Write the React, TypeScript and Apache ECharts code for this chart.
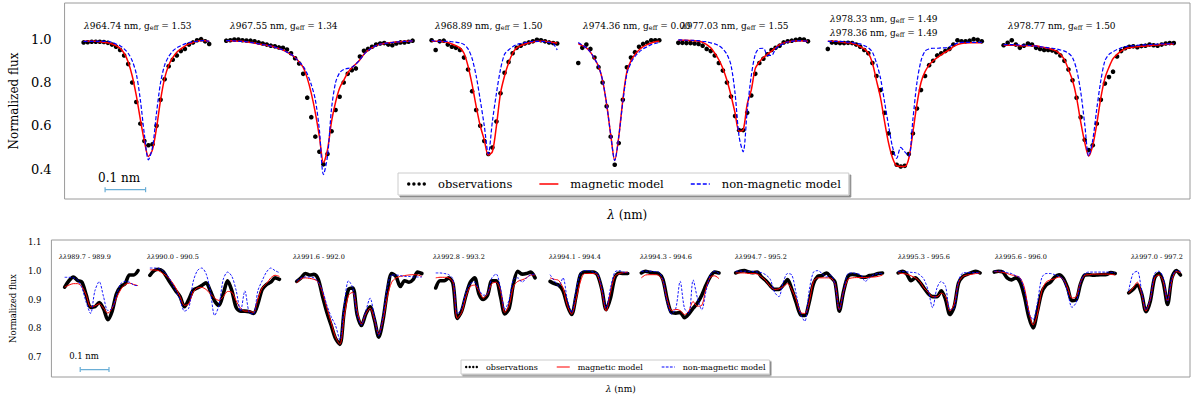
import React, { useEffect, useRef } from "react";
import * as echarts from "echarts";

// ---------- sampling ----------
const TOP_STEP_NM = 0.01;
const BOTTOM_STEP_NM = 0.015;
const SCALE_BAR_NM = 0.1;
const SCALE_BAR_START = 0.1;
const SCALE_BAR_LEVEL_TOP = 0.305;
const SCALE_BAR_LEVEL_BOTTOM = 0.6576;
const TOP_AXIS_MAX = 2.778;
const BOTTOM_AXIS_MAX = 3.955;

// position of each observed window on the concatenated (gap-joined) wavelength axis, nm
const topSegStart = [0.047, 0.399, 0.906, 1.268, 1.515, 1.884, 2.318];
const bottomSegStart = [0.046, 0.342, 0.852, 1.335, 1.732, 2.049, 2.377, 2.941, 3.275, 3.742];

// ---------- top panel: individual lines ----------
const topLineIds = ["964.74", "967.55", "968.89", "974.36", "977.03", "978.33", "978.36", "978.77"];
const topGeff = ["1.53", "1.34", "1.50", "0.00", "1.55", "1.49", "1.49", "1.50"];

const topObs = [
  [0.985,0.986,0.988,0.988,0.988,0.987,0.983,0.975,0.965,0.95,0.925,0.885,0.8,0.71,0.61,0.53,0.51,0.515,0.6,0.72,0.815,0.875,0.905,0.925,0.945,0.955,0.975,0.985,0.995,1.0,0.99,0.978],
  [0.993,0.995,0.998,0.998,0.995,0.994,0.993,0.99,0.985,0.98,0.975,0.97,0.967,0.962,0.96,0.952,0.935,0.912,0.888,0.84,0.73,0.64,0.55,0.48,0.422,0.47,0.575,0.673,0.734,0.8,0.84,0.857,0.865,0.92,0.946,0.955,0.965,0.975,0.98,0.982,0.975,0.972,0.98,0.985,0.985,0.988,0.993],
  [0.995,0.95,0.99,0.993,0.975,0.965,0.96,0.95,0.915,0.86,0.76,0.673,0.6,0.53,0.47,0.5,0.62,0.75,0.845,0.895,0.935,0.96,0.97,0.98,0.985,0.99,0.997,0.995,0.99,0.985,0.982,0.98],
  [0.89,0.96,0.975,0.955,0.915,0.87,0.8,0.69,0.55,0.42,0.52,0.72,0.87,0.915,0.94,0.965,0.978,0.985,0.995,0.995,0.995],
  [0.983,0.983,0.982,0.982,0.98,0.978,0.97,0.955,0.945,0.925,0.89,0.855,0.8,0.735,0.645,0.58,0.58,0.66,0.74,0.84,0.89,0.91,0.93,0.95,0.96,0.97,0.985,0.99,0.993,0.997,1.0,0.998,0.99],
  [0.955,0.985,0.983,0.982,0.982,0.983,0.982,0.975,0.965,0.95,0.935,0.89,0.83,0.765,0.66,0.565,0.475,0.42,0.412,0.415,0.47,0.565,0.68,0.765,0.83,0.88,0.9,0.925,0.935,0.945,0.955,0.975,0.995,0.99,0.99,0.993,1.0,0.997,0.99],
  [0.972,0.983,0.995,0.975,0.96,0.97,0.98,0.975,0.96,0.955,0.95,0.95,0.948,0.94,0.925,0.9,0.86,0.81,0.73,0.64,0.535,0.488,0.51,0.61,0.72,0.795,0.825,0.85,0.92,0.945,0.958,0.965,0.967,0.963,0.968,0.97,0.975,0.972,0.97,0.975,0.98,0.982,0.982],
];
const topMag = [
  [0.99,0.99,0.99,0.99,0.988,0.985,0.983,0.978,0.97,0.958,0.935,0.895,0.83,0.74,0.63,0.53,0.458,0.49,0.59,0.72,0.82,0.88,0.915,0.94,0.955,0.968,0.978,0.985,0.99,0.994,0.993,0.99],
  [0.993,0.993,0.992,0.99,0.99,0.988,0.985,0.982,0.978,0.975,0.972,0.968,0.963,0.957,0.95,0.94,0.93,0.915,0.895,0.87,0.82,0.75,0.66,0.55,0.43,0.49,0.62,0.71,0.775,0.81,0.845,0.868,0.885,0.905,0.93,0.948,0.96,0.97,0.977,0.98,0.983,0.985,0.987,0.988,0.99,0.99,0.992],
  [0.992,0.99,0.99,0.988,0.985,0.978,0.97,0.96,0.935,0.875,0.79,0.69,0.6,0.535,0.465,0.48,0.6,0.75,0.83,0.89,0.935,0.96,0.97,0.978,0.983,0.987,0.99,0.99,0.99,0.987,0.985,0.982],
  [0.98,0.97,0.96,0.94,0.91,0.875,0.81,0.7,0.56,0.44,0.55,0.72,0.85,0.9,0.93,0.95,0.965,0.975,0.982,0.988,0.99],
  [0.995,0.995,0.995,0.994,0.993,0.99,0.985,0.975,0.96,0.935,0.905,0.865,0.81,0.74,0.66,0.575,0.58,0.7,0.765,0.865,0.895,0.915,0.93,0.945,0.96,0.975,0.982,0.988,0.99,0.992,0.993,0.992,0.99],
  [0.99,0.99,0.99,0.988,0.985,0.983,0.98,0.975,0.965,0.955,0.935,0.89,0.81,0.73,0.62,0.52,0.45,0.415,0.412,0.412,0.45,0.57,0.7,0.8,0.85,0.88,0.9,0.915,0.928,0.94,0.95,0.965,0.975,0.98,0.982,0.983,0.983,0.983,0.983],
  [0.973,0.972,0.972,0.971,0.97,0.97,0.97,0.97,0.97,0.965,0.962,0.958,0.952,0.945,0.93,0.905,0.86,0.81,0.73,0.62,0.525,0.46,0.51,0.61,0.73,0.82,0.87,0.91,0.93,0.945,0.955,0.96,0.963,0.965,0.967,0.968,0.97,0.972,0.973,0.975,0.976,0.977,0.978],
];
const topNonMag = [
  [0.99,0.99,0.99,0.99,0.99,0.99,0.99,0.985,0.978,0.97,0.955,0.935,0.9,0.84,0.72,0.56,0.443,0.5,0.66,0.8,0.88,0.92,0.945,0.96,0.97,0.978,0.984,0.988,0.99,0.993,0.993,0.99],
  [0.993,0.993,0.992,0.99,0.99,0.988,0.985,0.982,0.978,0.975,0.972,0.968,0.963,0.957,0.95,0.94,0.93,0.915,0.895,0.875,0.84,0.79,0.72,0.58,0.375,0.46,0.68,0.8,0.845,0.86,0.865,0.87,0.885,0.905,0.93,0.948,0.96,0.97,0.977,0.98,0.983,0.985,0.987,0.988,0.99,0.99,0.992],
  [0.995,0.99,0.99,0.99,0.99,0.988,0.986,0.983,0.975,0.955,0.91,0.83,0.72,0.6,0.47,0.62,0.75,0.86,0.93,0.95,0.965,0.975,0.98,0.984,0.987,0.99,0.99,0.99,0.988,0.985,0.98,0.95],
  [0.985,0.972,0.96,0.94,0.91,0.875,0.81,0.7,0.56,0.44,0.55,0.71,0.84,0.89,0.92,0.94,0.955,0.965,0.975,0.98,0.985],
  [0.997,0.996,0.995,0.995,0.994,0.993,0.99,0.988,0.983,0.978,0.97,0.955,0.93,0.88,0.75,0.55,0.48,0.67,0.83,0.93,0.957,0.958,0.925,0.925,0.955,0.97,0.98,0.987,0.99,0.992,0.993,0.992,0.99],
  [0.99,0.99,0.99,0.99,0.988,0.986,0.985,0.98,0.978,0.97,0.96,0.94,0.89,0.82,0.71,0.6,0.5,0.45,0.5,0.48,0.46,0.63,0.8,0.9,0.945,0.955,0.958,0.958,0.96,0.96,0.965,0.975,0.982,0.985,0.985,0.985,0.985,0.985,0.985],
  [0.975,0.975,0.975,0.974,0.973,0.972,0.971,0.97,0.968,0.966,0.963,0.96,0.958,0.955,0.95,0.945,0.935,0.915,0.86,0.76,0.61,0.46,0.535,0.68,0.81,0.9,0.93,0.942,0.952,0.96,0.965,0.968,0.97,0.972,0.973,0.974,0.975,0.976,0.977,0.978,0.978,0.979,0.98],
];

// ---------- bottom panel: blended windows ----------
const bottomRanges = ["989.7 - 989.9", "990.0 - 990.5", "991.6 - 992.0", "992.8 - 993.2", "994.1 - 994.4", "994.3 - 994.6", "994.7 - 995.2", "995.3 - 995.6", "995.6 - 996.0", "997.0 - 997.2"];

const bottomObs = [
  [0.943,0.965,0.978,0.966,0.96,0.915,0.873,0.875,0.89,0.868,0.83,0.86,0.92,0.945,0.955,0.985,0.985,1.0],
  [0.984,1.0,1.005,0.998,0.975,0.952,0.93,0.91,0.875,0.9,0.932,0.94,0.948,0.958,0.93,0.895,0.88,0.92,0.965,0.93,0.872,0.86,0.86,0.858,0.852,0.885,0.935,0.952,0.96,0.975,0.97],
  [0.963,0.975,0.99,0.985,0.987,0.97,0.91,0.855,0.81,0.765,0.745,0.86,0.935,0.94,0.848,0.81,0.85,0.875,0.83,0.77,0.83,0.93,0.99,0.98,0.945,0.965,0.96,0.97,0.995,0.99],
  [0.94,0.965,0.965,0.975,0.955,0.835,0.86,0.915,0.96,0.975,0.92,0.9,0.915,0.965,0.965,0.91,0.85,0.87,0.955,0.998,0.988,0.99,0.995,0.975],
  [0.963,0.955,0.95,0.93,0.88,0.848,0.91,0.985,0.995,0.995,0.995,0.985,0.935,0.865,0.905,0.975,0.992,0.99,0.99],
  [0.992,0.998,0.994,0.992,0.99,0.97,0.9,0.855,0.853,0.855,0.837,0.85,0.87,0.888,0.915,0.95,0.98,0.995,0.992],
  [0.992,0.998,1.0,0.995,0.993,0.995,0.978,0.965,0.948,0.935,0.935,0.95,0.969,0.935,0.89,0.848,0.845,0.89,0.955,0.98,0.983,0.992,0.978,0.96,0.86,0.93,0.98,0.987,0.985,0.978,0.977,0.983,0.985,0.99,0.992],
  [0.992,0.998,0.988,0.965,0.975,0.96,0.94,0.92,0.91,0.91,0.93,0.9,0.848,0.875,0.957,0.98,0.987,0.993,0.998,0.992],
  [0.995,0.998,0.995,0.975,0.968,0.975,0.96,0.91,0.84,0.802,0.86,0.925,0.95,0.96,0.978,0.986,0.974,0.94,0.896,0.9,0.955,0.985,0.986,0.984,0.985,0.986,0.987,0.993,0.99],
  [0.923,0.935,0.95,0.92,0.858,0.894,0.975,0.99,0.96,0.883,0.975,1.0,0.985],
];
const bottomMag = [
  [0.943,0.95,0.955,0.955,0.945,0.915,0.875,0.878,0.885,0.87,0.853,0.87,0.905,0.935,0.952,0.957,0.952,0.948],
  [1.003,1.002,1.0,0.99,0.98,0.963,0.94,0.91,0.88,0.885,0.925,0.94,0.942,0.935,0.92,0.905,0.897,0.91,0.928,0.925,0.895,0.87,0.86,0.86,0.855,0.9,0.94,0.955,0.975,0.984,0.98],
  [0.957,0.972,0.975,0.973,0.97,0.96,0.925,0.87,0.82,0.77,0.745,0.84,0.915,0.925,0.86,0.815,0.85,0.87,0.83,0.78,0.83,0.91,0.96,0.975,0.98,0.983,0.985,0.986,0.985,0.98],
  [0.975,0.977,0.977,0.975,0.96,0.835,0.855,0.91,0.945,0.95,0.93,0.905,0.92,0.955,0.96,0.93,0.855,0.88,0.945,0.963,0.968,0.975,0.985,0.985],
  [0.975,0.97,0.966,0.94,0.88,0.85,0.9,0.96,0.99,0.99,0.99,0.985,0.93,0.86,0.925,0.98,0.99,0.993,0.995],
  [0.975,0.985,0.986,0.986,0.984,0.965,0.9,0.862,0.866,0.862,0.848,0.86,0.893,0.877,0.88,0.94,0.978,0.982,0.972],
  [0.992,0.992,0.992,0.99,0.99,0.988,0.978,0.965,0.945,0.935,0.937,0.945,0.955,0.934,0.9,0.855,0.852,0.89,0.963,0.975,0.975,0.975,0.974,0.955,0.865,0.93,0.97,0.975,0.976,0.976,0.976,0.977,0.978,0.98,0.985],
  [0.992,0.99,0.988,0.982,0.975,0.963,0.94,0.925,0.91,0.91,0.922,0.91,0.86,0.885,0.958,0.98,0.985,0.987,0.99,0.992],
  [0.997,0.996,0.994,0.99,0.985,0.982,0.975,0.94,0.86,0.812,0.85,0.93,0.96,0.968,0.972,0.978,0.97,0.94,0.905,0.91,0.96,0.984,0.986,0.988,0.988,0.988,0.988,0.987,0.985],
  [0.923,0.94,0.96,0.92,0.86,0.9,0.975,0.985,0.962,0.895,0.965,0.997,0.993],
];
const bottomNonMag = [
  [0.977,0.977,0.975,0.968,0.94,0.89,0.852,0.93,0.962,0.91,0.862,0.87,0.915,0.955,0.963,0.96,0.95,0.948],
  [1.009,1.009,1.008,1.0,0.985,0.96,0.93,0.9,0.86,0.87,0.96,1.0,1.009,0.99,0.93,0.845,0.88,0.97,0.995,0.98,0.93,0.86,0.93,0.855,0.85,0.93,0.965,0.995,1.009,1.0,0.993],
  [0.965,0.975,0.978,0.978,0.975,0.96,0.93,0.88,0.84,0.81,0.76,0.88,0.965,0.94,0.848,0.812,0.86,0.905,0.84,0.775,0.84,0.945,0.985,0.985,0.983,0.98,0.98,0.978,0.978,0.978],
  [0.992,0.992,0.99,0.986,0.97,0.85,0.87,0.925,0.955,0.96,0.935,0.915,0.92,0.975,0.988,0.94,0.865,0.9,0.97,0.975,0.96,0.975,0.985,0.988],
  [0.986,0.965,0.947,0.975,0.9,0.855,0.93,0.99,1.0,1.0,0.995,0.99,0.94,0.87,0.94,0.995,1.0,0.995,0.993],
  [0.998,0.998,0.998,0.997,0.995,0.97,0.89,0.85,0.87,0.963,0.87,0.852,0.968,0.905,0.865,0.93,0.986,0.998,0.99],
  [0.998,0.998,0.998,0.998,0.997,0.995,0.993,0.985,0.97,0.925,0.91,0.96,0.99,0.985,0.92,0.85,0.825,0.93,0.995,1.0,0.99,0.978,0.985,0.95,0.866,0.93,0.99,0.992,0.99,0.985,0.963,0.975,0.986,0.99,0.99],
  [0.998,0.997,0.996,0.994,0.993,0.986,0.97,0.93,0.872,0.94,0.963,0.945,0.865,0.87,0.965,0.992,0.993,0.993,0.993,0.993],
  [0.998,0.998,0.998,0.993,0.99,0.982,0.975,0.93,0.855,0.83,0.89,0.975,0.99,0.99,0.986,0.98,0.97,0.925,0.873,0.89,0.96,0.99,0.995,0.995,0.995,0.995,0.995,0.994,0.993],
  [0.93,0.99,0.998,0.93,0.865,0.9,0.99,0.998,0.975,0.895,0.975,1.0,0.998],
];

// ---------- layout (pixels) ----------
const topLabelPos = [[84, 26], [230, 26], [435, 26], [583, 26], [681, 26], [830, 19], [830, 33], [1008, 26]];
const bottomLabelX = [59, 147, 293, 433, 549, 640, 735, 898, 995, 1131];
const BOTTOM_LABEL_Y = 257;

const SERIF = "DejaVu Serif";
const RED = "#ff0000";
const BLUE = "#0000ff";
const BAR = "#6aaed6";
const DOTS_ICON =
  "path://M0,2a2,2 0 1,0 4,0a2,2 0 1,0 -4,0zM6,2a2,2 0 1,0 4,0a2,2 0 1,0 -4,0zM12,2a2,2 0 1,0 4,0a2,2 0 1,0 -4,0zM18,2a2,2 0 1,0 4,0a2,2 0 1,0 -4,0z";
const SOLID_ICON = "path://M0,0h19v1.5h-19z";
const DASH_ICON = "path://M0,0h4v1.3h-4zM6,0h4v1.3h-4zM12,0h4v1.3h-4zM18,0h1v1.3h-1z";

function toPoints(start: number, step: number, vals: number[]) {
  return vals.map((v, i) => [+(start + i * step).toFixed(4), v]);
}

function buildOption() {
  const series: any[] = [];
  // top panel
  series.push({
    type: "scatter",
    name: "observations",
    xAxisIndex: 0,
    yAxisIndex: 0,
    symbolSize: 4.6,
    itemStyle: { color: "#000", opacity: 1 },
    data: topObs.flatMap((s, k) => toPoints(topSegStart[k], TOP_STEP_NM, s)),
  });
  topMag.forEach((s, k) =>
    series.push({
      type: "line",
      name: "magnetic model",
      xAxisIndex: 0,
      yAxisIndex: 0,
      symbol: "none",
      smooth: 0.3,
      lineStyle: { color: RED, width: 1.5 },
      itemStyle: { color: RED },
      data: toPoints(topSegStart[k], TOP_STEP_NM, s),
    })
  );
  topNonMag.forEach((s, k) =>
    series.push({
      type: "line",
      name: "non-magnetic model",
      xAxisIndex: 0,
      yAxisIndex: 0,
      symbol: "none",
      smooth: 0.3,
      lineStyle: { color: BLUE, width: 1.2, type: [4, 2] },
      itemStyle: { color: BLUE },
      data: toPoints(topSegStart[k], TOP_STEP_NM, s),
    })
  );
  // bottom panel
  bottomObs.forEach((s, k) =>
    series.push({
      type: "line",
      name: "observations",
      xAxisIndex: 1,
      yAxisIndex: 1,
      symbol: "none",
      smooth: 0.3,
      lineStyle: { color: "#000", width: 3.6, cap: "round", join: "round" },
      itemStyle: { color: "#000" },
      data: toPoints(bottomSegStart[k], BOTTOM_STEP_NM, s),
    })
  );
  bottomMag.forEach((s, k) =>
    series.push({
      type: "line",
      name: "magnetic model",
      xAxisIndex: 1,
      yAxisIndex: 1,
      symbol: "none",
      smooth: 0.3,
      lineStyle: { color: RED, width: 1 },
      itemStyle: { color: RED },
      data: toPoints(bottomSegStart[k], BOTTOM_STEP_NM, s),
    })
  );
  bottomNonMag.forEach((s, k) =>
    series.push({
      type: "line",
      name: "non-magnetic model",
      xAxisIndex: 1,
      yAxisIndex: 1,
      symbol: "none",
      smooth: 0.3,
      lineStyle: { color: BLUE, width: 0.9, type: [2.5, 1.5] },
      itemStyle: { color: BLUE },
      data: toPoints(bottomSegStart[k], BOTTOM_STEP_NM, s),
    })
  );
  // scale bars (0.1 nm)
  [
    [0, SCALE_BAR_LEVEL_TOP],
    [1, SCALE_BAR_LEVEL_BOTTOM],
  ].forEach(([idx, level]) =>
    series.push({
      type: "line",
      xAxisIndex: idx,
      yAxisIndex: idx,
      symbol: "rect",
      symbolSize: [1.2, 5],
      showSymbol: true,
      silent: true,
      lineStyle: { color: BAR, width: 1.3 },
      itemStyle: { color: BAR },
      data: [
        [SCALE_BAR_START, level],
        [SCALE_BAR_START + SCALE_BAR_NM, level],
      ],
    })
  );

  const rich = (size: number) => ({
    l: { fontFamily: SERIF, fontSize: size, fontStyle: "italic", fill: "#000" },
    s: { fontFamily: SERIF, fontSize: size * 0.72, fill: "#000", verticalAlign: "bottom" },
  });

  const graphics: any[] = [];
  topLineIds.forEach((id, k) => {
    graphics.push({
      type: "text",
      x: topLabelPos[k][0],
      y: topLabelPos[k][1],
      silent: true,
      style: {
        text: `{l|λ}${id} nm, g{s|eff} = ${topGeff[k]}`,
        fontFamily: SERIF,
        fontSize: 9,
        fill: "#000",
        verticalAlign: "middle",
        rich: rich(9),
      },
    });
  });
  bottomRanges.forEach((r, k) => {
    graphics.push({
      type: "text",
      x: bottomLabelX[k],
      y: BOTTOM_LABEL_Y,
      silent: true,
      style: {
        text: `{l|λλ}${r}`,
        fontFamily: SERIF,
        fontSize: 6.5,
        fill: "#000",
        verticalAlign: "middle",
        rich: { l: { fontFamily: SERIF, fontSize: 6.5, fontStyle: "italic", fill: "#000" } },
      },
    });
  });
  graphics.push({
    type: "text",
    x: 119,
    y: 178,
    silent: true,
    style: { text: "0.1 nm", fontFamily: SERIF, fontSize: 12, fill: "#000", align: "center", verticalAlign: "middle" },
  });
  graphics.push({
    type: "text",
    x: 84,
    y: 355.5,
    silent: true,
    style: { text: "0.1 nm", fontFamily: SERIF, fontSize: 8.5, fill: "#000", align: "center", verticalAlign: "middle" },
  });

  const hiddenX = {
    type: "value",
    axisLine: { show: false },
    axisTick: { show: false },
    axisLabel: { show: false },
    splitLine: { show: false },
    nameLocation: "middle",
  };
  const yBase = {
    type: "value",
    axisLine: { show: false },
    axisTick: { show: false },
    splitLine: { show: false },
    nameLocation: "middle",
    nameRotate: 90,
  };
  const legendData = [
    { name: "observations", icon: DOTS_ICON },
    { name: "magnetic model", icon: SOLID_ICON },
    { name: "non-magnetic model", icon: DASH_ICON },
  ];

  return {
    animation: false,
    backgroundColor: "#fff",
    grid: [
      { left: 62, top: 3, width: 1128, height: 196, show: true, borderColor: "#9a9a9a", borderWidth: 1, backgroundColor: "transparent" },
      { left: 43, top: 240, width: 1147, height: 137, show: true, borderColor: "#9a9a9a", borderWidth: 1, backgroundColor: "transparent" },
    ],
    xAxis: [
      {
        ...hiddenX,
        gridIndex: 0,
        min: 0,
        max: TOP_AXIS_MAX,
        name: "{i|λ} (nm)",
        nameGap: 10,
        nameTextStyle: {
          fontFamily: SERIF,
          fontSize: 12,
          color: "#000",
          rich: { i: { fontFamily: SERIF, fontSize: 12, fontStyle: "italic", color: "#000" } },
        },
      },
      {
        ...hiddenX,
        gridIndex: 1,
        min: 0,
        max: BOTTOM_AXIS_MAX,
        name: "{i|λ} (nm)",
        nameGap: 7,
        nameTextStyle: {
          fontFamily: SERIF,
          fontSize: 9,
          color: "#000",
          rich: { i: { fontFamily: SERIF, fontSize: 9, fontStyle: "italic", color: "#000" } },
        },
      },
    ],
    yAxis: [
      {
        ...yBase,
        gridIndex: 0,
        min: 0.262,
        max: 1.167,
        name: "Normalized flux",
        nameGap: 44,
        nameTextStyle: { fontFamily: SERIF, fontSize: 12, color: "#000" },
        axisLabel: {
          customValues: [0.4, 0.6, 0.8, 1.0],
          formatter: (v: number) => v.toFixed(1),
          fontFamily: SERIF,
          fontSize: 13,
          color: "#000",
          margin: 13,
        },
      },
      {
        ...yBase,
        gridIndex: 1,
        min: 0.632,
        max: 1.106,
        name: "Normalized flux",
        nameGap: 31,
        nameTextStyle: { fontFamily: SERIF, fontSize: 8.5, color: "#000" },
        axisLabel: {
          customValues: [0.7, 0.8, 0.9, 1.0, 1.1],
          formatter: (v: number) => v.toFixed(1),
          fontFamily: SERIF,
          fontSize: 8.5,
          color: "#000",
          margin: 10,
        },
      },
    ],
    legend: [
      {
        left: 398,
        top: 173,
        selectedMode: false,
        itemWidth: 19,
        itemHeight: 8,
        itemGap: 27,
        padding: [5, 8, 5, 9],
        backgroundColor: "#fff",
        borderColor: "#cccccc",
        borderWidth: 1,
        shadowColor: "rgba(0,0,0,0.45)",
        shadowOffsetX: 2,
        shadowOffsetY: 2,
        shadowBlur: 0,
        textStyle: { fontFamily: SERIF, fontSize: 11.5, color: "#000", padding: [0, 0, 0, 7] },
        data: legendData,
      },
      {
        left: 461,
        top: 360,
        selectedMode: false,
        itemWidth: 13,
        itemHeight: 5,
        itemGap: 19,
        padding: [3, 4, 3, 4],
        backgroundColor: "#fff",
        borderColor: "#cccccc",
        borderWidth: 1,
        shadowColor: "rgba(0,0,0,0.45)",
        shadowOffsetX: 1.5,
        shadowOffsetY: 1.5,
        shadowBlur: 0,
        textStyle: { fontFamily: SERIF, fontSize: 8, color: "#000", padding: [0, 0, 0, 3] },
        data: legendData,
      },
    ],
    graphic: { elements: graphics },
    series,
  };
}

export default function App() {
  const ref = useRef<HTMLDivElement>(null);
  useEffect(() => {
    const chart = echarts.init(ref.current as HTMLDivElement, null, { renderer: "svg" });
    chart.setOption(buildOption() as any);
    return () => chart.dispose();
  }, []);
  return (
    <div
      ref={ref}
      style={{ position: "fixed", left: 0, top: 0, width: 1200, height: 396, background: "#fff" }}
    />
  );
}
